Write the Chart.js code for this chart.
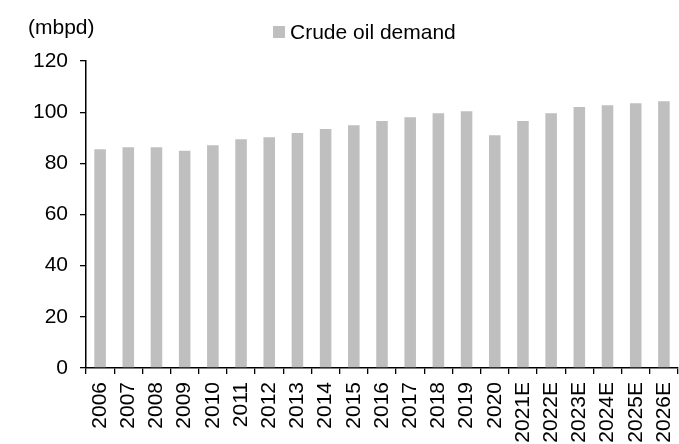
<!DOCTYPE html>
<html>
<head>
<meta charset="utf-8">
<script src="https://cdn.jsdelivr.net/npm/chart.js@4.4.1/dist/chart.umd.min.js"></script>
<style>
  html, body { margin: 0; padding: 0; background: #fff; }
  #wrap { width: 679px; height: 444px; }
</style>
</head>
<body>
<div id="wrap"><canvas id="chart" width="679" height="444"></canvas></div>
<script>
const years = ['2006', '2007', '2008', '2009', '2010', '2011', '2012', '2013', '2014', '2015',
  '2016', '2017', '2018', '2019', '2020', '2021E', '2022E', '2023E', '2024E', '2025E', '2026E'];
const demand = [85.5, 86.3, 86.3, 84.9, 87.1, 89.4, 90.2, 91.9, 93.4, 94.9,
  96.5, 98.0, 99.6, 100.4, 91.0, 96.5, 99.6, 102.0, 102.7, 103.5, 104.3];
const yTicks = [0, 20, 40, 60, 80, 100, 120];

const FONT = 'Liberation Sans, Arial, sans-serif';

// unit label and legend at the top
const header = {
  id: 'header',
  afterDraw(chart) {
    const ctx = chart.ctx;
    const ds = chart.data.datasets[0];
    ctx.save();
    ctx.fillStyle = '#000';
    ctx.font = '21px ' + FONT;
    ctx.textBaseline = 'middle';
    ctx.textAlign = 'left';
    ctx.fillText('(mbpd)', 28, 28);
    ctx.fillStyle = ds.backgroundColor;
    ctx.fillRect(273, 26, 12, 12);
    ctx.fillStyle = '#000';
    ctx.fillText(ds.label, 290, 33);
    ctx.restore();
  }
};

new Chart(document.getElementById('chart'), {
  type: 'bar',
  data: {
    labels: years,
    datasets: [{
      label: 'Crude oil demand',
      data: demand,
      backgroundColor: '#bfbfbf',
      categoryPercentage: 1,
      barPercentage: 0.41,
    }],
  },
  options: {
    responsive: false,
    animation: false,
    layout: { padding: { top: 61, right: 1, left: 0, bottom: 0 } },
    plugins: {
      legend: { display: false },
      tooltip: { enabled: false },
    },
    scales: {
      x: {
        grid: { display: true, drawOnChartArea: false, drawTicks: true, tickLength: 6, color: '#000', lineWidth: 1.3 },
        border: { color: '#000', width: 1.5 },
        ticks: { color: '#000', font: { family: FONT, size: 21 }, maxRotation: 90, minRotation: 90, padding: 8, autoSkip: false },
        afterFit(scale) {
          scale.height = 76;
          scale.paddingLeft = 0;
          scale.paddingRight = 0;
        },
      },
      y: {
        min: 0,
        max: 120,
        afterBuildTicks(scale) { scale.ticks = yTicks.map(v => ({ value: v })); },
        grid: { display: true, drawOnChartArea: false, drawTicks: true, tickLength: 6, color: '#000', lineWidth: 1.3 },
        border: { color: '#000', width: 1.5 },
        ticks: { color: '#000', font: { family: FONT, size: 21 }, padding: 12 },
        afterFit(scale) {
          scale.width = 86;
          scale.paddingTop = 0;
          scale.paddingBottom = 0;
        },
      },
    },
  },
  plugins: [header],
});
</script>
</body>
</html>
